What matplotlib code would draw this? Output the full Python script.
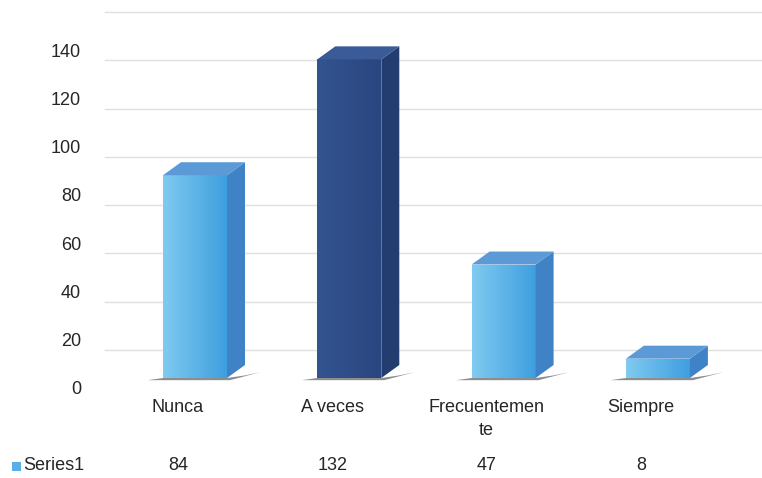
import numpy as np
import matplotlib
matplotlib.use("Agg")
from matplotlib import pyplot as plt
from matplotlib.patches import Polygon, Rectangle

categories = ["Nunca", "A veces", "Frecuentemen\nte", "Siempre"]
values = [84, 132, 47, 8]
series_name = "Series1"
yticks = [0, 20, 40, 60, 80, 100, 120, 140]

plt.rcParams['font.family'] = ['Liberation Sans', 'DejaVu Sans']

# pixel layout: x px = 178 + 154.3 * x, y px = 378 - 2.414 * v
PX_X, PX_Y = 154.3, 2.414
fig = plt.figure(figsize=(7.62, 4.78), dpi=100)
ax = fig.add_axes([0, 0, 1, 1])
ax.axis('off')

shift = 17 / PX_X          # bar centre relative to label centre
width = 64 / PX_X
dx = 18 / PX_X             # depth offsets
dy = 13 / PX_Y
wall = 28 / PX_Y           # back wall offset

# back wall gridlines
for t in yticks:
    ax.plot([(105 - 178) / PX_X, (762 - 178) / PX_X], [t + wall, t + wall],
            color='#e0e0e0', lw=1.0, zorder=0)

light = dict(front_l='#7fcaf0', front_r='#3f9fdf', top='#5b9ad6', side='#3f82c6')
dark = dict(front_l='#34548f', front_r='#2a4680', top='#3a5a98', side='#243d70')

for i, v in enumerate(values):
    pal = dark if i == 1 else light
    xc = i + shift
    xl, xr = xc - width / 2, xc + width / 2
    # base shadow
    ax.add_patch(Polygon([(xl - 0.10, -0.9), (xr + 0.02, -0.9), (xr + dx + 0.10, dy * 0.45),
                          (xr + dx, dy * 0.2), (xr, 0), (xl, 0)],
                         closed=True, facecolor='#303030', edgecolor='none', alpha=0.55, zorder=1))
    bar = ax.bar(xc, v, width=width, color=pal['front_r'], zorder=2)[0]
    grad = np.linspace(0, 1, 50).reshape(1, -1)
    cmap = matplotlib.colors.LinearSegmentedColormap.from_list('g', [pal['front_l'], pal['front_r']])
    im = ax.imshow(grad, extent=(xl, xr, 0, v), aspect='auto', cmap=cmap, zorder=3)
    im.set_clip_path(bar)
    ax.add_patch(Polygon([(xr, 0), (xr + dx, dy), (xr + dx, v + dy), (xr, v)],
                         closed=True, facecolor=pal['side'], edgecolor='none', zorder=3))
    ax.add_patch(Polygon([(xl, v), (xr, v), (xr + dx, v + dy), (xl + dx, v + dy)],
                         closed=True, facecolor=pal['top'], edgecolor='none', zorder=3))

ax.set_xlim(-178 / PX_X, (762 - 178) / PX_X)
ax.set_ylim((378 - 478) / PX_Y, 378 / PX_Y)

fs = 13
for t in yticks:
    ax.text((81 - 178) / PX_X, t - 12 / PX_Y, str(t), ha='right', va='center',
            fontsize=fs, color='#262626')

for i, c in enumerate(categories):
    ax.text(i, (378 - 399) / PX_Y, c, ha='center', va='top', fontsize=fs,
            color='#262626', linespacing=1.45)
    ax.text(i, (378 - 466) / PX_Y, str(values[i]), ha='center', va='center',
            fontsize=fs, color='#262626')

ax.add_patch(Rectangle(((12 - 178) / PX_X, (378 - 471) / PX_Y), 9 / PX_X, 9 / PX_Y,
                       facecolor='#5aaee6', edgecolor='none'))
ax.text((23 - 178) / PX_X, (378 - 466) / PX_Y, series_name, ha='left', va='center',
        fontsize=fs, color='#262626')

fig.savefig('out.png', dpi=100)
